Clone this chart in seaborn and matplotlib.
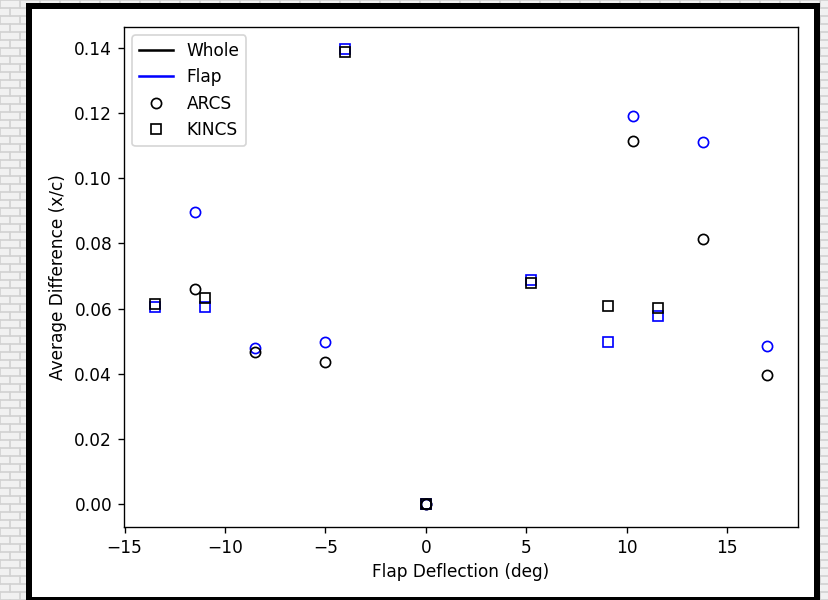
import matplotlib
matplotlib.use("Agg")
import matplotlib.pyplot as plt
from matplotlib.lines import Line2D
from matplotlib.patches import Rectangle
import numpy as np
import pandas as pd
import seaborn as sns

# ---- data ----
arcs_x = [-11.5, -8.5, -5.0, 0.0, 10.3, 13.8, 17.0]
arcs_whole = [0.0659, 0.0467, 0.0437, 0.0, 0.1115, 0.0814, 0.0396]
arcs_flap = [0.0897, 0.0479, 0.0497, 0.0, 0.1191, 0.1111, 0.0486]
kincs_x = [-13.5, -11.0, -4.0, 0.0, 5.25, 9.05, 11.55]
kincs_whole = [0.0613, 0.0632, 0.1388, 0.0, 0.0679, 0.0607, 0.0601]
kincs_flap = [0.0605, 0.0605, 0.1396, 0.0, 0.0688, 0.0497, 0.0577]

parts = ["Whole", "Flap"]
methods = ["ARCS", "KINCS"]
part_colors = {"Whole": "black", "Flap": "blue"}
method_markers = {"ARCS": "o", "KINCS": "s"}

rows = []
for m, xs, ys_w, ys_f in [("ARCS", arcs_x, arcs_whole, arcs_flap),
                          ("KINCS", kincs_x, kincs_whole, kincs_flap)]:
    for x, yw, yf in zip(xs, ys_w, ys_f):
        rows.append({"method": m, "part": "Whole", "x": x, "y": yw})
        rows.append({"method": m, "part": "Flap", "x": x, "y": yf})
df = pd.DataFrame(rows)

DPI = 122
W, H = 828, 600
fig = plt.figure(figsize=(W / DPI, H / DPI), dpi=DPI)
fig.patch.set_facecolor("#f1f1f1")

# ---- background (brick wall + framed white canvas) ----
bg = fig.add_axes([0, 0, 1, 1], zorder=-10)
bg.set_xlim(0, W)
bg.set_ylim(H, 0)
bg.axis("off")
mortar = "#d2d2d2"
bh, bw = 8, 20
for i, yy in enumerate(np.arange(0, H + bh, bh)):
    bg.plot([0, W], [yy, yy], color=mortar, lw=1.0, solid_capstyle="butt", zorder=1)
    off = 0 if i % 2 == 0 else bw / 2
    for xx in np.arange(off, W + bw, bw):
        bg.plot([xx, xx], [yy, yy + bh], color=mortar, lw=1.0, zorder=1)
bg.add_patch(Rectangle((26, 3), 794, 605, facecolor="black", edgecolor="none", zorder=5))
bg.add_patch(Rectangle((32, 9), 782, 588, facecolor="white", edgecolor="none", zorder=6))

# ---- main axes ----
left, right, top, bottom = 124, 798, 26.7, 526.7
ax = fig.add_axes([left / W, 1 - bottom / H, (right - left) / W, (bottom - top) / H])

for part in ["Flap", "Whole"]:
    for m in methods:
        sub = df[(df.method == m) & (df.part == part)]
        c = part_colors[part]
        sns.lineplot(data=sub, x="x", y="y", ax=ax, estimator=None, sort=False,
                     linestyle="", marker=method_markers[m], markersize=6,
                     markerfacecolor="none", markeredgecolor=c,
                     markeredgewidth=1.0, color=c, legend=False)

ax.set_xlabel("Flap Deflection (deg)")
ax.set_ylabel("Average Difference (x/c)")

handles = [
    Line2D([], [], color="black", lw=1.5, label="Whole"),
    Line2D([], [], color="blue", lw=1.5, label="Flap"),
    Line2D([], [], color="black", ls="", marker="o", mfc="none", label="ARCS"),
    Line2D([], [], color="black", ls="", marker="s", mfc="none", label="KINCS"),
]
ax.legend(handles=handles, loc="upper left")

fig.savefig("out.png", dpi=DPI)
